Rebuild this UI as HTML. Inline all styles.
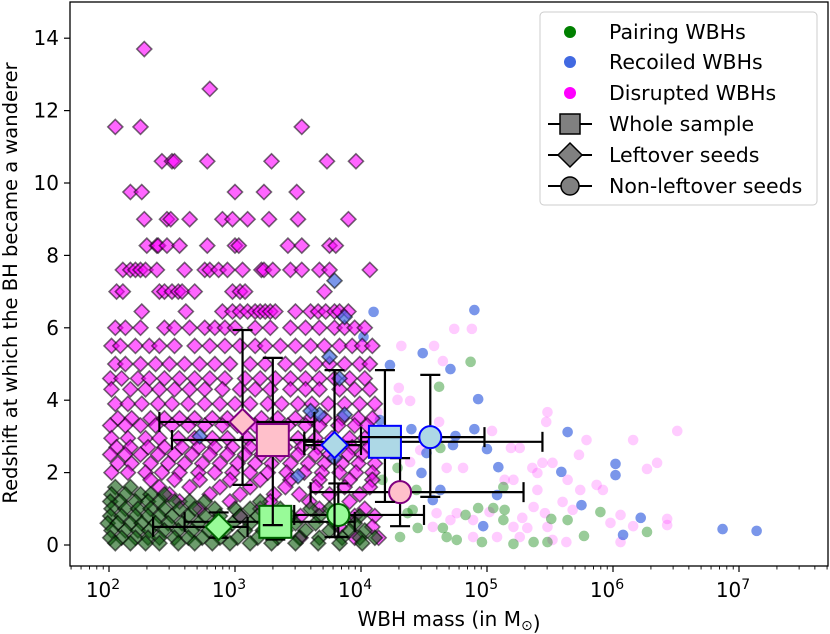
<!DOCTYPE html>
<html><head><meta charset="utf-8"><style>
html,body{margin:0;padding:0;background:#fff;}
svg{display:block;font-family:"DejaVu Sans","Liberation Sans",sans-serif;}
</style></head><body>
<svg id="chart" width="830" height="634" viewBox="0 0 830 634">
<g id="marks"></g>
<rect x="70" y="2" width="758" height="564" fill="none" stroke="#000" stroke-width="1.3"/>
<g id="axes"></g>
<text x="449" y="626" text-anchor="middle" font-size="20">WBH mass (in M<tspan font-size="14" dy="4">⊙</tspan>)</text>
<text transform="translate(17,283) rotate(-90)" text-anchor="middle" font-size="19.5">Redshift at which the BH became a wanderer</text>
<g>
<rect x="540" y="12" width="277" height="193" rx="4" fill="#fff" fill-opacity="0.8" stroke="#ccc" stroke-width="1"/>
<circle cx="570" cy="32" r="6" fill="green"/>
<text x="609" y="39" font-size="20.5">Pairing WBHs</text>
<circle cx="570" cy="62" r="6" fill="royalblue"/>
<text x="609" y="69" font-size="20.5">Recoiled WBHs</text>
<circle cx="570" cy="93" r="6" fill="magenta"/>
<text x="609" y="100" font-size="20.5">Disrupted WBHs</text>
<line x1="548" y1="124" x2="592" y2="124" stroke="#000" stroke-width="2"/>
<rect x="560" y="114" width="20" height="20" fill="gray" stroke="#000" stroke-width="1.5"/>
<text x="609" y="131" font-size="20.5">Whole sample</text>
<line x1="548" y1="155" x2="592" y2="155" stroke="#000" stroke-width="2"/>
<polygon points="570,143 582,155 570,167 558,155" fill="gray" stroke="#000" stroke-width="1.5"/>
<text x="609" y="162" font-size="20.5">Leftover seeds</text>
<line x1="548" y1="186" x2="592" y2="186" stroke="#000" stroke-width="2"/>
<circle cx="570" cy="186" r="9" fill="gray" stroke="#000" stroke-width="1.5"/>
<text x="609" y="193" font-size="20.5">Non-leftover seeds</text>
</g>
</svg>
<script>
// ---- data (log10 mass, redshift) ----
const diskLevels=[13.7,12.6,11.55,10.6,9.75,9.0,8.27,7.6,7.0,6.45,6.0,5.5,5.0,4.6,4.3,3.9,3.5,3.3,2.95,2.7,2.5,2.25,2.0,1.8,1.6,1.4,1.2,1.0,0.8,0.5,0.2];
const diskMasses=[
[2.28],[2.80],[2.05,2.25,3.53],[2.42,2.50,2.52,2.78,3.29,3.73,3.96],[2.17,2.26,3.00,3.23,3.49],
[2.28,2.46,2.49,2.64,2.90,2.98,3.10,3.27,3.50,3.90],
[2.30,2.38,2.39,2.46,2.56,2.78,3.00,3.03,3.42,3.53,3.75,3.80],
[2.11,2.17,2.21,2.25,2.29,2.38,2.60,2.76,2.80,2.87,2.94,3.06,3.21,3.23,3.30,3.44,3.53,3.67,3.75,4.07],
[2.06,2.11,2.40,2.44,2.50,2.55,2.58,2.68,2.98,3.04,3.08,3.71],
[2.26,2.61,2.90,2.98,3.04,3.10,3.16,3.20,3.24,3.28,3.32,3.48,3.60,3.66,3.72,3.79,3.83,3.90],
[2.05,2.13,2.25,2.44,2.52,2.64,2.76,2.84,2.92,3.00,3.16,3.28,3.44,3.56,3.67,3.79,3.87,3.95,4.03],
[2.02,2.09,2.21,2.32,2.40,2.52,2.68,2.80,2.92,3.04,3.16,3.24,3.36,3.48,3.60,3.71,3.83,3.93,4.01,4.09],
[2.05,2.13,2.25,2.37,2.48,2.60,2.72,2.84,2.96,3.12,3.24,3.40,3.52,3.64,3.75,3.87,3.99,4.07],
[2.01,2.10,2.23,2.32,2.44,2.56,2.68,2.80,2.92,3.08,3.20,3.32,3.44,3.56,3.67,3.79,3.91,4.03],
[2.02,2.17,2.29,2.40,2.52,2.64,2.76,2.90,3.04,3.16,3.28,3.44,3.56,3.67,3.83,3.95,4.07],
[2.05,2.15,2.26,2.39,2.50,2.63,2.76,2.88,3.00,3.12,3.26,3.37,3.50,3.61,3.74,3.87,3.99,4.11],
[2.07,2.18,2.33,2.44,2.56,2.68,2.82,2.94,3.08,3.21,3.34,3.48,3.60,3.71,3.85,3.98,4.09],
[2.01,2.13,2.25,2.37,2.50,2.63,2.76,2.90,3.02,3.16,3.29,3.42,3.56,3.67,3.82,3.95,4.05],
[2.02,2.15,2.29,2.40,2.55,2.68,2.82,2.94,3.10,3.24,3.37,3.50,3.64,3.77,3.91,4.03],
[2.06,2.17,2.31,2.44,2.58,2.71,2.84,2.98,3.12,3.26,3.40,3.53,3.66,3.79,3.93,4.06],
[2.01,2.13,2.25,2.39,2.52,2.66,2.80,2.94,3.08,3.21,3.36,3.50,3.64,3.75,3.90,4.01],
[2.07,2.18,2.33,2.47,2.60,2.74,2.88,3.02,3.16,3.29,3.44,3.58,3.71,3.85,3.98,4.11],
[2.02,2.15,2.29,2.42,2.56,2.71,2.84,2.98,3.12,3.26,3.41,3.55,3.69,3.83,3.96,4.09],
[2.33,2.52,2.72,2.96,3.20,3.44,3.67,3.91,4.09],
[2.40,2.64,2.88,3.12,3.40,3.64,3.87,4.07],
[2.48,2.80,3.04,3.31,3.51,3.75,3.99],
[2.56,2.96,3.28,3.59,3.91],
[2.72,3.20,3.67,4.03],
[3.04,3.52,3.95,4.11],
[3.36,3.83,4.09],
[3.52,3.95,4.14]];
const pairLevels=[1.6,1.4,1.2,1.0,0.8,0.6,0.4,0.2,0.05];
const pairMasses=[
[2.05,2.17],
[2.02,2.13,2.25,2.33,2.44],
[2.01,2.09,2.21,2.31,2.40,2.52,2.64,2.76,3.20],
[2.02,2.13,2.23,2.33,2.44,2.56,2.68,2.84,3.00,3.12,3.36,3.60,3.75],
[2.01,2.10,2.21,2.31,2.40,2.50,2.63,2.76,2.88,3.04,3.18,3.44,3.67,3.87,3.99],
[1.99,2.07,2.17,2.26,2.37,2.47,2.58,2.71,2.84,2.98,3.12,3.28,3.48,3.64,3.79,3.95],
[2.02,2.13,2.23,2.32,2.44,2.55,2.66,2.79,2.92,3.08,3.22,3.40,3.56,3.75,3.91,4.03],
[2.01,2.10,2.21,2.31,2.40,2.52,2.63,2.74,2.88,3.02,3.18,3.34,3.51,3.67,3.85,3.99,4.11],
[2.05,2.17,2.29,2.40,2.55,2.68,2.82,2.96,3.12,3.29,3.48,3.66,3.83,4.01]];
const recDiamM=[3.79,3.87,3.75,3.67,2.72,3.87,3.79,3.60,3.50,3.83];
const recDiamZ=[7.3,6.3,5.2,3.6,3.0,3.6,2.4,3.7,1.9,4.6];
const pairCircM=[4.87,4.62,4.29,4.09,4.17,5.13,4.44,4.41,4.37,4.93,5.05,5.14,4.83,5.13,5.51,5.64,5.90,6.27,5.77,4.65,4.68,4.76,4.96,5.21,5.37,5.48,4.31,4.63,4.45];
const pairCircZ=[5.06,4.37,2.13,1.88,1.80,1.60,1.52,0.97,0.88,1.02,1.02,0.97,0.83,0.69,0.72,0.69,0.91,0.36,0.25,0.47,0.22,0.14,0.08,0.03,0.08,0.08,0.22,2.68,0.47];
const disCircM=[4.74,4.88,4.32,4.58,4.65,4.30,4.29,4.39,5.48,5.47,4.62,5.04,6.51,6.16,5.79,5.19,5.26,5.73,6.35,6.27,5.44,5.52,5.36,5.40,4.81,4.68,5.21,5.14,5.64,5.87,5.92,5.74,5.40,5.60,5.68,5.37,5.46,5.28,6.06,6.16,5.98,6.43,6.43,5.02,4.89,4.76,4.71,4.60,4.57,5.21,5.32,5.48,5.08,5.26,5.52,5.63,6.06,4.89,4.47,4.39,4.13];
const disCircZ=[5.97,5.97,5.50,5.50,5.08,4.34,4.01,3.98,3.67,3.40,3.40,3.15,3.15,2.90,2.90,2.68,2.68,2.49,2.27,2.10,2.27,2.27,2.13,1.99,2.13,2.13,1.80,1.80,1.80,1.66,1.52,1.52,1.52,1.19,0.97,1.05,0.88,0.75,0.83,0.52,0.61,0.72,0.55,0.91,0.69,0.88,0.69,0.88,0.50,0.50,0.47,0.50,0.22,0.22,0.14,0.08,0.08,0.22,2.62,2.29,3.67];
const recCircM=[4.10,4.90,4.02,4.49,4.23,4.71,4.93,4.15,4.40,4.90,4.75,4.73,5.00,4.52,5.09,4.48,4.63,5.08,4.57,5.64,6.02,6.02,5.59,5.75,4.97,6.08,6.22,6.87,7.14];
const recCircZ=[6.44,6.49,5.75,5.30,4.97,4.86,4.03,3.45,3.20,3.20,3.01,2.76,2.65,2.54,2.15,1.99,1.52,1.38,1.24,3.12,2.24,1.93,2.02,1.10,0.52,0.28,0.75,0.44,0.39];
const sumNames=["pair-whole","pair-leftover","pair-nonleftover","dis-whole","dis-leftover","dis-nonleftover","rec-whole","rec-leftover","rec-nonleftover"];
const sumM=[3.32,2.87,3.82,3.30,3.06,4.31,4.19,3.79,4.55];
const sumZ=[0.64,0.50,0.83,2.90,3.40,1.46,2.85,2.76,2.98];
const sumMlo=[2.60,2.35,3.47,2.50,2.40,3.60,3.55,3.55,4.00];
const sumMhi=[3.95,3.10,4.50,3.63,3.63,5.29,5.44,4.00,4.98];
const sumZlo=[0.15,0.20,0.22,0.55,1.66,0.52,1.19,0.22,1.33];
const sumZhi=[1.00,0.90,1.70,5.17,5.94,2.40,4.83,4.83,4.70];
const sumShape=["square","diamond","circle","square","diamond","circle","square","diamond","circle"];
const sumFill=["palegreen","palegreen","palegreen","pink","pink","pink","lightblue","lightblue","lightblue"];
const sumEdge=["darkgreen","darkgreen","darkgreen","purple","purple","purple","blue","blue","blue"];
const xTickExp=[2,3,4,5,6,7];
const yTicks=[0,2,4,6,8,10,12,14];

const X=l=>109+(l-2)*126;
const Y=z=>545-z*36.2;
const NS="http://www.w3.org/2000/svg";
const marks=document.getElementById('marks');
const axes=document.getElementById('axes');
function mk(tag,attrs,parent){const e=document.createElementNS(NS,tag);for(const k in attrs)e.setAttribute(k,attrs[k]);parent.appendChild(e);return e;}
function diamond(cx,cy,h){return `${cx},${cy-h} ${cx+h},${cy} ${cx},${cy+h} ${cx-h},${cy}`;}

function circles(ms,zs,color,op,name){
  for(let i=0;i<ms.length;i++){
    const c=mk('circle',{cx:X(ms[i]),cy:Y(zs[i]),r:5.3,fill:color,'fill-opacity':op},marks);
    
    
  }
}
circles(disCircM,disCircZ,'magenta',0.2,'disrupted-point');
circles(pairCircM,pairCircZ,'green',0.4,'pairing-point');
circles(recCircM,recCircZ,'royalblue',0.7,'recoiled-point');

function diamonds(levels,masses,color,op,name){
  for(let i=0;i<levels.length;i++){for(const m of masses[i]){
    const p=mk('polygon',{points:diamond(X(m),Y(levels[i]),7.5),fill:color,'fill-opacity':op,stroke:'#000','stroke-opacity':0.55,'stroke-width':1.6},marks);
    
    
  }}
}
diamonds(diskLevels,diskMasses,'magenta',0.6,'disrupted-leftover-point');
diamonds(pairLevels,pairMasses,'#0a5a0a',0.6,'pairing-leftover-point');
for(let i=0;i<recDiamM.length;i++){
  const p=mk('polygon',{points:diamond(X(recDiamM[i]),Y(recDiamZ[i]),7.5),fill:'royalblue','fill-opacity':0.7,stroke:'#000','stroke-opacity':0.55,'stroke-width':1.6},marks);
  
  
}

for(let i=0;i<sumM.length;i++){
  const g=mk('g',{},marks);
  
  
  const cx=X(sumM[i]),cy=Y(sumZ[i]);
  const x1=X(sumMlo[i]),x2=X(sumMhi[i]),y1=Y(sumZhi[i]),y2=Y(sumZlo[i]);
  const st={stroke:'#000','stroke-width':2.2};
  mk('line',Object.assign({x1:x1,y1:cy,x2:x2,y2:cy},st),g);
  mk('line',Object.assign({x1:cx,y1:y1,x2:cx,y2:y2},st),g);
  mk('line',Object.assign({x1:x1,y1:cy-10,x2:x1,y2:cy+10},st),g);
  mk('line',Object.assign({x1:x2,y1:cy-10,x2:x2,y2:cy+10},st),g);
  mk('line',Object.assign({x1:cx-10,y1:y1,x2:cx+10,y2:y1},st),g);
  mk('line',Object.assign({x1:cx-10,y1:y2,x2:cx+10,y2:y2},st),g);
  const ms={fill:sumFill[i],stroke:sumEdge[i],'stroke-width':2};
  if(sumShape[i]==='square') mk('rect',Object.assign({x:cx-16,y:cy-16,width:32,height:32},ms),g);
  else if(sumShape[i]==='diamond') mk('polygon',Object.assign({points:diamond(cx,cy,13)},ms),g);
  else mk('circle',Object.assign({cx:cx,cy:cy,r:11},ms),g);
}

for(const e of xTickExp){
  const x=X(e);
  mk('line',{x1:x,y1:566,x2:x,y2:572,stroke:'#000','stroke-width':1.2},axes);
  const t=mk('text',{x:x-6,y:597,'text-anchor':'middle','font-size':20},axes);
  t.textContent='10';
  const s=mk('tspan',{dy:-8,'font-size':14},t);s.textContent=String(e);
  
  
}
for(let e=1;e<=7;e++){for(let k=2;k<=9;k++){
  const x=X(e+Math.log10(k));
  if(x<70||x>828)continue;
  mk('line',{x1:x,y1:566,x2:x,y2:569.5,stroke:'#000','stroke-width':0.9},axes);
}}
for(const v of yTicks){
  const y=Y(v);
  mk('line',{x1:64,y1:y,x2:70,y2:y,stroke:'#000','stroke-width':1.2},axes);
  const t=mk('text',{x:59,y:y+7,'text-anchor':'end','font-size':20},axes);
  t.textContent=String(v);
  
  
}
</script>
</body></html>
